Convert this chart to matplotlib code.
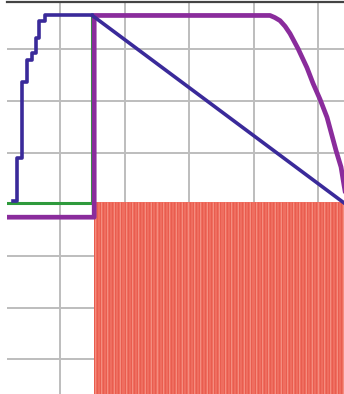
import numpy as np
import matplotlib.pyplot as plt

# step response (blue), reference (green), limiter (purple)
blue_t = [0.27, 0.33, 0.41, 0.49, 0.57, 0.63, 0.67, 0.77, 1.50, 5.41]
blue_v = [0.06, 0.89, 2.36, 2.78, 2.93, 3.22, 3.55, 3.65, 3.65, 0.02]

green_t = [0.15, 1.50, 1.50]
green_v = [0.02, 0.02, 3.65]

purple_t = [0.15, 1.53, 1.53, 4.256, 4.330, 4.411, 4.490, 4.566, 4.690, 4.829,
            4.922, 5.031, 5.140, 5.279, 5.357, 5.403, 5.42]
purple_v = [-0.25, -0.25, 3.65, 3.65, 3.61, 3.55, 3.44, 3.30, 3.01, 2.64,
            2.34, 2.03, 1.68, 1.04, 0.72, 0.37, 0.25]

# pwm drive signal (red)
pwm_start = 1.52
pwm_stop = 5.45
pwm_period = 0.048
pwm_high = 0.04
pwm_low = -4.0

fig = plt.figure(figsize=(3.44, 3.94), dpi=100)
ax = fig.add_axes([7 / 344, 0, 1 - 7 / 344, 1 - 1.5 / 394])

ax.set_xlim(0.178, 5.403)
ax.set_ylim(-3.668, 3.92)

ax.set_xticks([1, 2, 3, 4, 5])
ax.set_yticks([-3, -2, -1, 0, 1, 2, 3])
ax.grid(True, color='#bdbdbd', lw=1.4)
ax.tick_params(length=0, labelbottom=False, labelleft=False)
for s in ['left', 'right', 'bottom']:
    ax.spines[s].set_visible(False)
ax.spines['top'].set_color('#444444')
ax.spines['top'].set_linewidth(1.6)

# pwm: fill + switching edges
ax.fill_between([pwm_start, pwm_stop], pwm_low, pwm_high, color='#ef6e60', lw=0, zorder=2)
edges = np.arange(pwm_start, pwm_stop, pwm_period / 2)
ax.vlines(edges[::2], pwm_low, pwm_high, color='#e85a4c', lw=0.6, zorder=2)
ax.vlines(edges[1::4], pwm_low, pwm_high, color='#f59486', lw=0.6, zorder=2)

ax.plot(green_t, green_v, color='#2e9a3c', lw=2.2, zorder=3)
ax.plot(purple_t, purple_v, color='#8a2c9c', lw=3.4, zorder=4, solid_joinstyle='round')
ax.plot(blue_t[:9], blue_v[:9], color='#3a2a9a', lw=2.6, drawstyle='steps-post', zorder=5)
ax.plot(blue_t[8:], blue_v[8:], color='#3a2a9a', lw=2.6, zorder=5)

fig.savefig('out.png', dpi=100)
